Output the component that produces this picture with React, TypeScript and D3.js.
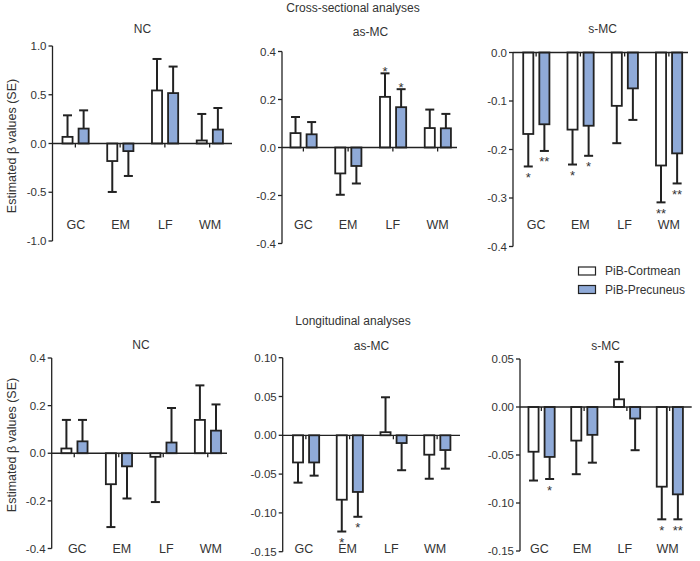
import React from 'react';
import * as d3 from 'd3';

const categories = ['GC', 'EM', 'LF', 'WM'];
const seriesNames = ['PiB-Cortmean', 'PiB-Precuneus'];

// Cross-sectional analyses
const crossNcCort = [0.068, -0.18, 0.544, 0.031];
const crossNcCortSE = [0.221, 0.317, 0.323, 0.272];
const crossNcPrec = [0.153, -0.078, 0.517, 0.143];
const crossNcPrecSE = [0.187, 0.255, 0.272, 0.221];
const crossNcCortStars = ['', '', '', ''];
const crossNcPrecStars = ['', '', '', ''];
const crossNcTicks = [1.0, 0.5, 0.0, -0.5, -1.0];

const crossAsCort = [0.06, -0.108, 0.211, 0.081];
const crossAsCortSE = [0.067, 0.089, 0.098, 0.077];
const crossAsPrec = [0.055, -0.077, 0.168, 0.08];
const crossAsPrecSE = [0.051, 0.073, 0.075, 0.06];
const crossAsCortStars = ['', '', '*', ''];
const crossAsPrecStars = ['', '', '*', ''];
const crossAsTicks = [0.4, 0.2, 0.0, -0.2, -0.4];

const crossSCort = [-0.168, -0.159, -0.11, -0.233];
const crossSCortSE = [0.067, 0.072, 0.077, 0.076];
const crossSPrec = [-0.148, -0.151, -0.074, -0.208];
const crossSPrecSE = [0.055, 0.062, 0.065, 0.062];
const crossSCortStars = ['*', '*', '', '**'];
const crossSPrecStars = ['**', '*', '', '**'];
const crossSTicks = [0.0, -0.1, -0.2, -0.3, -0.4];

// Longitudinal analyses
const longNcCort = [0.02, -0.13, -0.015, 0.14];
const longNcCortSE = [0.12, 0.18, 0.19, 0.145];
const longNcPrec = [0.05, -0.055, 0.045, 0.095];
const longNcPrecSE = [0.09, 0.135, 0.145, 0.11];
const longNcCortStars = ['', '', '', ''];
const longNcPrecStars = ['', '', '', ''];
const longNcTicks = [0.4, 0.2, 0.0, -0.2, -0.4];

const longAsCort = [-0.035, -0.083, 0.004, -0.025];
const longAsCortSE = [0.026, 0.041, 0.045, 0.031];
const longAsPrec = [-0.035, -0.073, -0.01, -0.019];
const longAsPrecSE = [0.017, 0.032, 0.035, 0.024];
const longAsCortStars = ['', '*', '', ''];
const longAsPrecStars = ['', '*', '', ''];
const longAsTicks = [0.1, 0.05, 0.0, -0.05, -0.1, -0.15];

const longSCort = [-0.0466, -0.035, 0.008, -0.083];
const longSCortSE = [0.03, 0.035, 0.039, 0.034];
const longSPrec = [-0.052, -0.029, -0.012, -0.091];
const longSPrecSE = [0.023, 0.029, 0.033, 0.026];
const longSCortStars = ['', '', '', '*'];
const longSPrecStars = ['*', '', '', '**'];
const longSTicks = [0.05, 0.0, -0.05, -0.1, -0.15];

const sectionTitles = ['Cross-sectional analyses', 'Longitudinal analyses'];
const yLabel = 'Estimated β values (SE)';

const FONT = '"Liberation Sans", Arial, Helvetica, sans-serif';
const TEXT = '#333';
const LINE = '#222';
const BLUE = '#8FAAD8';

type Panel = {
  title: string;
  cort: number[]; cortSE: number[]; prec: number[]; precSE: number[];
  cortStars: string[]; precStars: string[];
  ticks: number[]; decimals: number;
  band: [number, number]; axisX: number; lineEnd: number;
  yRange: [number, number];
  titleY: number; labelY: number; labelDx: number;
};

const panels: Panel[] = [
  { title: 'NC', cort: crossNcCort, cortSE: crossNcCortSE, prec: crossNcPrec, precSE: crossNcPrecSE,
    cortStars: crossNcCortStars, precStars: crossNcPrecStars, ticks: crossNcTicks, decimals: 1,
    band: [53, 232], axisX: 52.5, lineEnd: 232, yRange: [241, 46], titleY: 32.5, labelY: 229, labelDx: 0.5 },
  { title: 'as-MC', cort: crossAsCort, cortSE: crossAsCortSE, prec: crossAsPrec, precSE: crossAsPrecSE,
    cortStars: crossAsCortStars, precStars: crossAsPrecStars, ticks: crossAsTicks, decimals: 1,
    band: [281, 460], axisX: 282, lineEnd: 457, yRange: [243.5, 51.5], titleY: 36, labelY: 229, labelDx: 0 },
  { title: 's-MC', cort: crossSCort, cortSE: crossSCortSE, prec: crossSPrec, precSE: crossSPrecSE,
    cortStars: crossSCortStars, precStars: crossSPrecStars, ticks: crossSTicks, decimals: 1,
    band: [514, 691], axisX: 513, lineEnd: 688, yRange: [246.5, 52.5], titleY: 32.5, labelY: 229, labelDx: 0 },
  { title: 'NC', cort: longNcCort, cortSE: longNcCortSE, prec: longNcPrec, precSE: longNcPrecSE,
    cortStars: longNcCortStars, precStars: longNcPrecStars, ticks: longNcTicks, decimals: 1,
    band: [52, 230], axisX: 51.7, lineEnd: 227, yRange: [548.5, 358], titleY: 348.5, labelY: 553, labelDx: 3 },
  { title: 'as-MC', cort: longAsCort, cortSE: longAsCortSE, prec: longAsPrec, precSE: longAsPrecSE,
    cortStars: longAsCortStars, precStars: longAsPrecStars, ticks: longAsTicks, decimals: 2,
    band: [284, 459], axisX: 282.7, lineEnd: 460, yRange: [551.7, 357.7], titleY: 350, labelY: 553, labelDx: -2 },
  { title: 's-MC', cort: longSCort, cortSE: longSCortSE, prec: longSPrec, precSE: longSPrecSE,
    cortStars: longSCortStars, precStars: longSPrecStars, ticks: longSTicks, decimals: 2,
    band: [520, 691], axisX: 520, lineEnd: 691.7, yRange: [551, 359], titleY: 349.5, labelY: 553, labelDx: -2 },
];

const fmt = (v: number, d: number) => (v < 0 ? '-' : '') + Math.abs(v).toFixed(d);

function PanelView({ p }: { p: Panel }) {
  const x = d3.scaleBand<string>().domain(categories).range(p.band).padding(0);
  const ext = d3.extent(p.ticks) as [number, number];
  const y = d3.scaleLinear().domain(ext).range(p.yRange);
  const y0 = y(0);
  const series = [
    { vals: p.cort, se: p.cortSE, stars: p.cortStars, fill: '#fff', off: -13.8 },
    { vals: p.prec, se: p.precSE, stars: p.precStars, fill: BLUE, off: 2.3 },
  ];
  const outerW = 11.9;
  const sw = 1.8;
  return (
    <g>
      <text x={(p.band[0] + p.band[1]) / 2} y={p.titleY} textAnchor="middle" fontSize={12} fill={TEXT}>{p.title}</text>
      <line x1={p.axisX} x2={p.axisX} y1={y(ext[1])} y2={y(ext[0])} stroke={LINE} strokeWidth={1.3} />
      {p.ticks.map((t) => (
        <g key={t}>
          <line x1={p.axisX - 4} x2={p.axisX} y1={y(t)} y2={y(t)} stroke={LINE} strokeWidth={1.3} />
          <text x={p.axisX - 6} y={y(t)} dy="0.36em" textAnchor="end" fontSize={11.5} fill={TEXT}>{fmt(t, p.decimals)}</text>
        </g>
      ))}
      {categories.map((c, i) => {
        const cx = (x(c) as number) + x.bandwidth() / 2;
        return (
          <g key={c}>
            {series.map((s, k) => {
              const v = s.vals[i];
              const e = s.se[i];
              const sign = v >= 0 ? 1 : -1;
              const left = cx + s.off;
              const bx = left + sw / 2;
              const bw = outerW - sw;
              const yv = y(v);
              const ye = y(v + sign * e);
              const bc = left + outerW / 2;
              const top = Math.min(yv, y0);
              const h = Math.abs(yv - y0);
              const starY = sign > 0 ? ye + 3 : ye + 15.5;
              return (
                <g key={k}>
                  <line x1={bc} x2={bc} y1={yv} y2={ye} stroke={LINE} strokeWidth={2} />
                  <line x1={bc - 4.5} x2={bc + 4.5} y1={ye} y2={ye} stroke={LINE} strokeWidth={2} />
                  <rect x={bx} y={top} width={bw} height={h} fill={s.fill} stroke={LINE} strokeWidth={sw} />
                  {s.stars[i] && (
                    <text x={bc} y={starY} textAnchor="middle" fontSize={13} fill={TEXT}>{s.stars[i]}</text>
                  )}
                </g>
              );
            })}
            <line x1={cx} x2={cx} y1={y0} y2={y0 + 4} stroke={LINE} strokeWidth={1.3} />
            <text x={cx + p.labelDx} y={p.labelY} textAnchor="middle" fontSize={12.5} fill={TEXT}>{c}</text>
          </g>
        );
      })}
      <line x1={p.axisX} x2={p.lineEnd} y1={y0} y2={y0} stroke={LINE} strokeWidth={1.3} />
    </g>
  );
}

export default function App() {
  return (
    <svg width={700} height={561} style={{ position: 'absolute', left: 0, top: 0, background: '#fff' }} fontFamily={FONT}>
      <rect x={0} y={0} width={700} height={561} fill="#fff" />
      <text x={353} y={12} textAnchor="middle" fontSize={12} fill={TEXT}>{sectionTitles[0]}</text>
      <text x={353} y={325} textAnchor="middle" fontSize={12} fill={TEXT}>{sectionTitles[1]}</text>
      <text transform="translate(15.5,146) rotate(-90)" textAnchor="middle" fontSize={12.5} fill={TEXT}>{yLabel}</text>
      <text transform="translate(15.5,445) rotate(-90)" textAnchor="middle" fontSize={12.5} fill={TEXT}>{yLabel}</text>
      {panels.map((p, i) => <PanelView key={i} p={p} />)}
      <rect x={578.5} y={267} width={17} height={8} fill="#fff" stroke={LINE} strokeWidth={1.2} />
      <text x={605} y={275} fontSize={12} fill={TEXT}>{seriesNames[0]}</text>
      <rect x={578.5} y={285.5} width={17} height={8} fill={BLUE} stroke={LINE} strokeWidth={1.2} />
      <text x={605} y={294} fontSize={12} fill={TEXT}>{seriesNames[1]}</text>
    </svg>
  );
}
